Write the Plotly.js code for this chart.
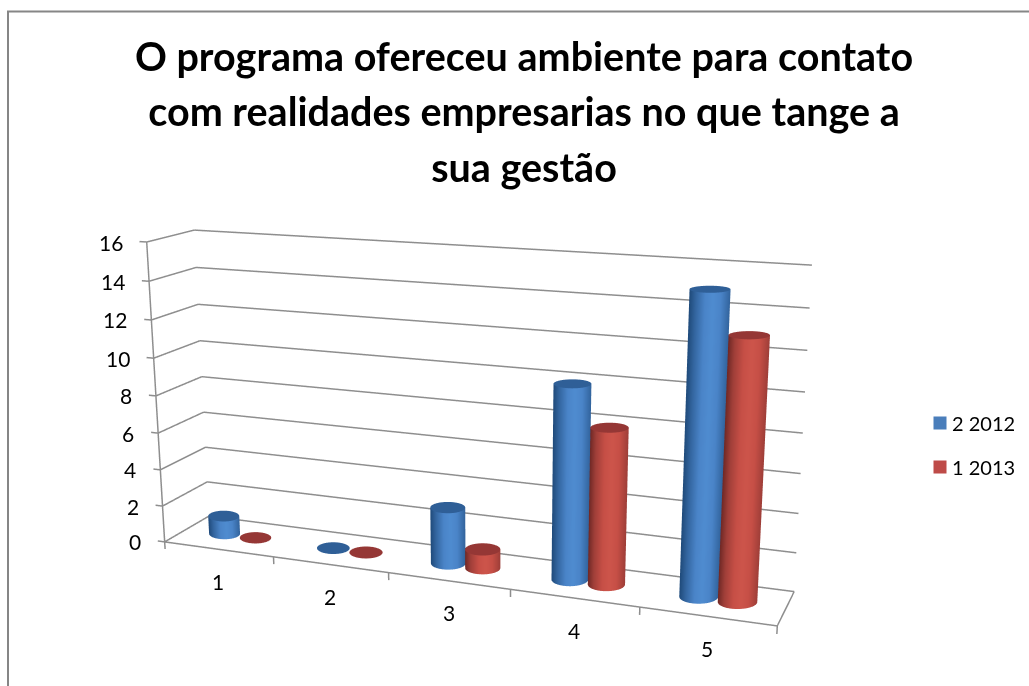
<!DOCTYPE html>
<html><head><meta charset="utf-8"><script src="https://cdn.plot.ly/plotly-3.0.1.min.js"></script>
<style>html,body{margin:0;background:#fff;overflow:hidden;width:1029px;height:686px}</style></head><body><div id="c" style="position:absolute"></div>
<script>
const categories=[1,2,3,4,5];
const series2012=[1,0,3,10,15];
const series2013=[0,0,1,8,13];
const seriesNames=["2 2012","1 2013"];
const valueTicks=[0,2,4,6,8,10,12,14,16];
const catBoundaries=[0.5,1.5,2.5,3.5,4.5,5.5];
const titleLines=["O programa ofereceu ambiente para contato","com realidades empresarias no que tange a","sua gestão"];
function norm(v){const l=Math.hypot(...v);return v.map(a=>a/l);}
function cross(a,b){return [a[1]*b[2]-a[2]*b[1],a[2]*b[0]-a[0]*b[2],a[0]*b[1]-a[1]*b[0]];}
function dot(a,b){return a[0]*b[0]+a[1]*b[1]+a[2]*b[2];}
const p=[1.6466,-4.1505,1.1926,0.1019,0.0037,0.2782,0.9831,496,415,1259];
function makeProj(p){const [ex,ey,ez,cx,cz,ay,az,pxc,pyc,h]=p;const f=norm([cx-ex,0-ey,cz-ez]);const r=norm(cross(f,[0,0,1]));const u=cross(r,f);const S=1.20711*h;
 return (wx,wy,wz)=>{const P=[wx-ex,wy-ey,wz-ez];const d=dot(P,f);return [pxc+S*dot(P,r)/d,pyc-S*dot(P,u)/d];};}
const [ex,ey,ez,cx,cz,ay,az,pxc,pyc,vh]=p;const ax=2;
const proj=makeProj(p);
const figW=2*Math.ceil(Math.max(pxc,1029-pxc)),figH=vh,left=pxc-figW/2,top0=pyc-vh/2;
const host=document.getElementById('c');host.style.left=left+'px';host.style.top=top0+'px';host.style.width=figW+'px';host.style.height=figH+'px';
const PX=x=>(x-left)/figW,PY=y=>1-(y-top0)/figH;
const xR=[0.5,5.5];
const toWorld=(x,y,z)=>[(x-3)/5*ax,(y-.5)*ay,(z-8)/16*az];
const toPx=(x,y,z)=>proj(...toWorld(x,y,z));
const wHalf=0.145, off=0.145, q0=0.36;
const shades={0:[[0,'#2f5f97'],[0.08,'#2f5f97'],[0.1,'#1f4a7a'],[0.35,'#33659f'],[0.7,'#4a84c8'],[1,'#4f8cd0']],1:[[0,'#953735'],[0.08,'#953735'],[0.1,'#6f2825'],[0.35,'#a03f39'],[0.7,'#c64f46'],[1,'#cd554b']]};
function cyl(cxd,h,si){
  const b0=toPx(cxd,0.5,0),bx=toPx(cxd+0.01,0.5,0),by=toPx(cxd,0.51,0);
  const j=[(bx[0]-b0[0])/0.01,(by[0]-b0[0])/0.01,(bx[1]-b0[1])/0.01,(by[1]-b0[1])/0.01];
  const det=j[0]*j[3]-j[1]*j[2];const R=wHalf*Math.hypot(j[0],j[2]);
  const n=64,X=[],Y=[],Z=[],C=[];
  const rows=[[0,h,'c'],[1,h,'c'],[1,h,'s'],[1,0,'s'],[1,0,'c'],[0,0,'c']];
  for(const [rr,zz,kind] of rows){const x=[],y=[],z=[],c=[];for(let i=0;i<=n;i++){const a=i/n*2*Math.PI;
    const sx=R*rr*Math.cos(a),sy=-q0*R*rr*Math.sin(a);
    x.push(cxd+(j[3]*sx-j[1]*sy)/det);y.push(0.5+(-j[2]*sx+j[0]*sy)/det);z.push(zz);
    const uu=Math.cos(a);const sh=uu<0.15?(uu+1)/1.15:0.25+0.75*(1-uu)/0.85;c.push(kind==='c'?0:0.1+0.9*sh);}
    X.push(x);Y.push(y);Z.push(z);C.push(c);}
  return {type:'surface',x:X,y:Y,z:Z,surfacecolor:C,cmin:0,cmax:1,cauto:false,showscale:false,colorscale:shades[si],lighting:{ambient:1,diffuse:0,specular:0,fresnel:0,roughness:1},hoverinfo:'skip',showlegend:false};
}
const traces=[];
categories.forEach((c,i)=>{traces.push(cyl(c-off,series2012[i],0));traces.push(cyl(c+off,series2013[i],1));});
const lx=[],ly=[],lz=[];const seg=(a,b)=>{lx.push(a[0],b[0],null);ly.push(a[1],b[1],null);lz.push(a[2],b[2],null);};
const X0=xR[0],X1=xR[1];
valueTicks.forEach(v=>{seg([X0-0.065,0,v],[X0,0,v]);seg([X0,0,v],[X0,1,v]);seg([X0,1,v],[X1,1,v]);});
seg([X0,0,0],[X0,0,16]);seg([X0,0,0],[X1,0,0]);seg([X1,0,0],[X1,1,0]);
catBoundaries.forEach(b=>seg([b,0,0],[b,0,-0.4]));
traces.push({type:'scatter3d',mode:'lines',x:lx,y:ly,z:lz,connectgaps:false,line:{color:'#8e8e8e',width:3},hoverinfo:'skip',showlegend:false});
traces.push({type:'scatter',x:[null],y:[null],mode:'markers',name:seriesNames[0],marker:{symbol:'square',size:13,color:'#4a7ebb'},legendgroup:'a'});
traces.push({type:'scatter',x:[null],y:[null],mode:'markers',name:seriesNames[1],marker:{symbol:'square',size:13,color:'#be4b48'},legendgroup:'b'});
const lab=[];
valueTicks.forEach(v=>lab.push({x:0.5,y:0,z:v,text:String(v),showarrow:false,xanchor:'right',xshift:-22,font:{family:'Lato',size:21,color:'#000'}}));
categories.forEach(c=>lab.push({x:c,y:0,z:0,text:String(c),showarrow:false,yshift:-32,font:{family:'Lato',size:21,color:'#000'}}));
const axHide={showticklabels:false,title:{text:''},showgrid:false,zeroline:false,showbackground:false,showspikes:false,showline:false,ticks:''};
const Hx=3.1,Hy=0.6,Hz=9.5;
const layout={width:figW,height:figH,margin:{l:0,r:0,t:0,b:0},paper_bgcolor:'#fff',plot_bgcolor:'#fff',
 xaxis:{visible:false},yaxis:{visible:false},
 showlegend:true,legend:{x:PX(912),y:PY(403),xanchor:'left',yanchor:'top',tracegroupgap:15,font:{family:'Lato',size:20,color:'#000'},bgcolor:'rgba(0,0,0,0)'},
 title:{text:titleLines.map(t=>'<span style="font-size:39.5px">'+t+'</span>').join('<br>'),font:{family:'Lato',size:43,color:'#000',weight:'bold'},x:PX(524),xanchor:'center',y:PY(70),yanchor:'middle',yref:'paper'},
 shapes:[{type:'rect',xref:'paper',yref:'paper',x0:PX(8),x1:PX(1060),y0:PY(720),y1:PY(11),line:{color:'#868686',width:2}}],
 scene:{domain:{x:[0,1],y:[0,1]},aspectmode:'manual',aspectratio:{x:2*Hx*ax/5,y:2*Hy*ay,z:2*Hz*az/16},
  camera:{eye:{x:ex-cx,y:ey,z:ez-cz},center:{x:0,y:0,z:0},up:{x:0,y:0,z:1},projection:{type:'perspective'}},
  xaxis:Object.assign({},axHide,{range:[3+cx/ax*5-Hx,3+cx/ax*5+Hx]}),
  yaxis:Object.assign({},axHide,{range:[0.5-Hy,0.5+Hy]}),
  zaxis:Object.assign({},axHide,{range:[8+cz/az*16-Hz,8+cz/az*16+Hz]}),
  annotations:lab}
};
Plotly.newPlot('c',traces,layout,{displayModeBar:false}).then(()=>{document.querySelectorAll('.legendsymbols').forEach(g=>g.setAttribute('transform','translate(8,0)'));});
</script></body></html>
